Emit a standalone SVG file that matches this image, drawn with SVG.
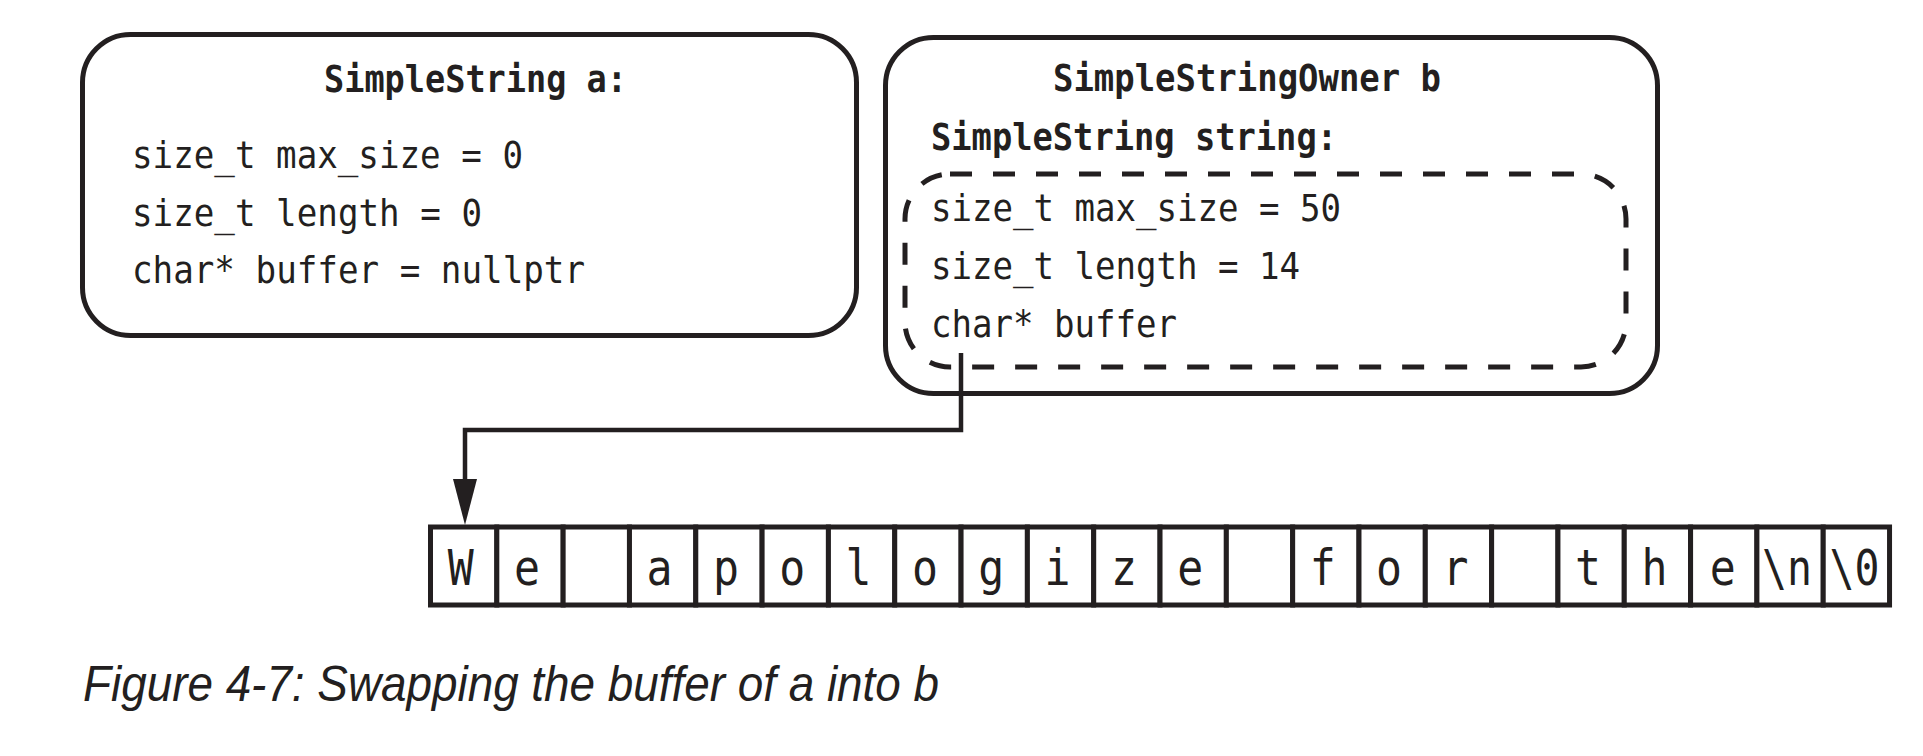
<svg xmlns="http://www.w3.org/2000/svg" width="1923" height="756" viewBox="0 0 1923 756">
<style>
.box{fill:#fff;stroke:#231f20;stroke-width:5}
.dash{fill:none;stroke:#231f20;stroke-width:5;stroke-dasharray:22 21}
.mono{font-family:"DejaVu Sans Mono","Liberation Mono",monospace;font-size:38px;fill:#231f20}
.bold{font-weight:bold}
.cell{fill:#fff;stroke:#231f20;stroke-width:5}
.ct{font-family:"DejaVu Sans Mono","Liberation Mono",monospace;font-size:50px;fill:#231f20;text-anchor:middle}
.wire{fill:none;stroke:#231f20;stroke-width:4.5}
.cap{font-family:"Liberation Sans",Arial,sans-serif;font-style:italic;font-size:50px;fill:#231f20}
</style>
<rect width="1923" height="756" fill="#fff"/>
<g id="node-a">
<rect class="box" x="82.5" y="34.5" width="774" height="301" rx="48"/>
<text class="mono bold" x="324" y="92" textLength="303" lengthAdjust="spacingAndGlyphs">SimpleString a:</text>
<text class="mono" x="132" y="168" textLength="391" lengthAdjust="spacingAndGlyphs">size_t max_size = 0</text>
<text class="mono" x="132" y="226" textLength="350" lengthAdjust="spacingAndGlyphs">size_t length = 0</text>
<text class="mono" x="132" y="283" textLength="453" lengthAdjust="spacingAndGlyphs">char* buffer = nullptr</text>
</g>
<g id="node-b">
<rect class="box" x="885.5" y="37.5" width="772" height="356" rx="48"/>
<text class="mono bold" x="1053" y="91" textLength="388" lengthAdjust="spacingAndGlyphs">SimpleStringOwner b</text>
<text class="mono bold" x="931" y="150" textLength="406" lengthAdjust="spacingAndGlyphs">SimpleString string:</text>
<g id="node-b-string">
<rect class="dash" x="905" y="174" width="721" height="193" rx="45"/>
<text class="mono" x="931" y="221" textLength="410" lengthAdjust="spacingAndGlyphs">size_t max_size = 50</text>
<text class="mono" x="931" y="279" textLength="369" lengthAdjust="spacingAndGlyphs">size_t length = 14</text>
<text class="mono" x="931" y="337" textLength="246" lengthAdjust="spacingAndGlyphs">char* buffer</text>
</g>
</g>
<g id="node-buffer">
<rect class="cell" x="430.5" y="527" width="66.32" height="78"/>
<rect class="cell" x="496.82" y="527" width="66.32" height="78"/>
<rect class="cell" x="563.14" y="527" width="66.32" height="78"/>
<rect class="cell" x="629.46" y="527" width="66.32" height="78"/>
<rect class="cell" x="695.78" y="527" width="66.32" height="78"/>
<rect class="cell" x="762.1" y="527" width="66.32" height="78"/>
<rect class="cell" x="828.42" y="527" width="66.32" height="78"/>
<rect class="cell" x="894.74" y="527" width="66.32" height="78"/>
<rect class="cell" x="961.06" y="527" width="66.32" height="78"/>
<rect class="cell" x="1027.38" y="527" width="66.32" height="78"/>
<rect class="cell" x="1093.7" y="527" width="66.32" height="78"/>
<rect class="cell" x="1160.02" y="527" width="66.32" height="78"/>
<rect class="cell" x="1226.34" y="527" width="66.32" height="78"/>
<rect class="cell" x="1292.66" y="527" width="66.32" height="78"/>
<rect class="cell" x="1358.98" y="527" width="66.32" height="78"/>
<rect class="cell" x="1425.3" y="527" width="66.32" height="78"/>
<rect class="cell" x="1491.62" y="527" width="66.32" height="78"/>
<rect class="cell" x="1557.94" y="527" width="66.32" height="78"/>
<rect class="cell" x="1624.26" y="527" width="66.32" height="78"/>
<rect class="cell" x="1690.58" y="527" width="66.32" height="78"/>
<rect class="cell" x="1756.9" y="527" width="66.32" height="78"/>
<rect class="cell" x="1823.22" y="527" width="66.32" height="78"/>
<text class="ct" x="460.7" y="585" textLength="26" lengthAdjust="spacingAndGlyphs">W</text>
<text class="ct" x="527" y="585" textLength="26" lengthAdjust="spacingAndGlyphs">e</text>
<text class="ct" x="659.6" y="585" textLength="26" lengthAdjust="spacingAndGlyphs">a</text>
<text class="ct" x="725.9" y="585" textLength="26" lengthAdjust="spacingAndGlyphs">p</text>
<text class="ct" x="792.3" y="585" textLength="26" lengthAdjust="spacingAndGlyphs">o</text>
<text class="ct" x="858.6" y="585" textLength="26" lengthAdjust="spacingAndGlyphs">l</text>
<text class="ct" x="924.9" y="585" textLength="26" lengthAdjust="spacingAndGlyphs">o</text>
<text class="ct" x="991.2" y="585" textLength="26" lengthAdjust="spacingAndGlyphs">g</text>
<text class="ct" x="1057.5" y="585" textLength="26" lengthAdjust="spacingAndGlyphs">i</text>
<text class="ct" x="1123.9" y="585" textLength="26" lengthAdjust="spacingAndGlyphs">z</text>
<text class="ct" x="1190.2" y="585" textLength="26" lengthAdjust="spacingAndGlyphs">e</text>
<text class="ct" x="1322.8" y="585" textLength="26" lengthAdjust="spacingAndGlyphs">f</text>
<text class="ct" x="1389.1" y="585" textLength="26" lengthAdjust="spacingAndGlyphs">o</text>
<text class="ct" x="1455.5" y="585" textLength="26" lengthAdjust="spacingAndGlyphs">r</text>
<text class="ct" x="1588.1" y="585" textLength="26" lengthAdjust="spacingAndGlyphs">t</text>
<text class="ct" x="1654.4" y="585" textLength="26" lengthAdjust="spacingAndGlyphs">h</text>
<text class="ct" x="1722.7" y="585" textLength="26" lengthAdjust="spacingAndGlyphs">e</text>
<text class="ct" x="1787.1" y="585" textLength="50" lengthAdjust="spacingAndGlyphs">\n</text>
<text class="ct" x="1854.4" y="585" textLength="50" lengthAdjust="spacingAndGlyphs">\0</text>
</g>
<g id="connectors">
<path class="wire" d="M961 353 V430 H465 V482"/>
<polygon points="453,479 477,479 465,525" fill="#231f20"/>
</g>
<text class="cap" x="83" y="701" textLength="856" lengthAdjust="spacingAndGlyphs">Figure 4-7: Swapping the buffer of a into b</text>
</svg>
